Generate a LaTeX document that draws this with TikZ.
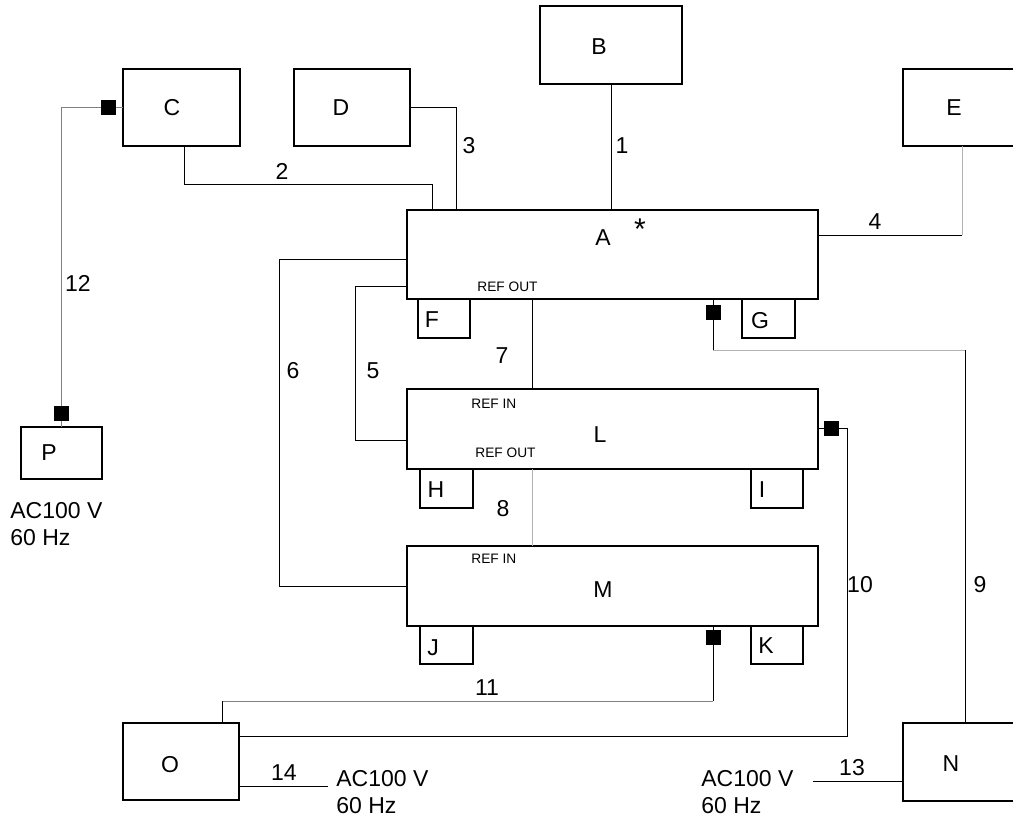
\documentclass[tikz,border=0pt]{standalone}
\usepackage{fontspec}
\setmainfont{Liberation Sans}
\usetikzlibrary{calc}
\begin{document}
\begin{tikzpicture}[x=0.5pt,y=-0.5pt,
  box/.style={draw,line width=1pt,inner sep=0pt,outer sep=0pt},
  conn/.style={line width=0.5pt},
  lg/.style={conn,draw=black!30},
  mg/.style={conn,draw=black!50},
  sq/.style={fill=black,draw=none,minimum size=7.5pt,inner sep=0pt,outer sep=0pt},
  txt/.style={font=\fontsize{11.5}{13.8}\selectfont,inner sep=0pt},
  small/.style={font=\fontsize{6.85}{8}\selectfont,inner sep=0pt}]
\useasboundingbox (0,0) rectangle (1013,821);
\clip (0,0) rectangle (1013,821);
% boxes
\node[box,minimum width=58.5pt,minimum height=38.5pt,label={[txt,shift={(-9.5,0.5)}]center:C}] (C) at (181.5,107.5) {};
\node[box,minimum width=58pt,minimum height=38.5pt,label={[txt,shift={(-11,0.5)}]center:D}] (D) at (352,107.5) {};
\node[box,minimum width=71pt,minimum height=39pt,label={[txt,shift={(-12,2)}]center:B}] (B) at (611,45) {};
\node[box,minimum width=71pt,minimum height=38.5pt,label={[txt,shift={(-20,0.5)}]center:E}] (E) at (974,107.5) {};
\node[box,minimum width=205.5pt,minimum height=44.5pt,label={[txt,shift={(-9.5,-16.5)}]center:A}] (A) at (612.5,254.5) {};
\node[font=\fontsize{15}{18}\selectfont,inner sep=0pt] (star) at (640,229) {*};
\node[box,minimum width=26pt,minimum height=19.5pt,label={[txt,shift={(-12,1.5)}]center:F}] (F) at (444,318.5) {};
\node[box,minimum width=26.5pt,minimum height=19.5pt,label={[txt,shift={(-8.5,2.5)}]center:G}] (G) at (768.5,318.5) {};
\node[box,minimum width=205.5pt,minimum height=40pt,label={[txt,shift={(-12.5,6)}]center:L}] (L) at (612.5,429) {};
\node[box,minimum width=26.5pt,minimum height=19.5pt,label={[txt,shift={(-10.5,1.5)}]center:H}] (H) at (446.5,488.5) {};
\node[box,minimum width=26pt,minimum height=19.5pt,label={[txt,shift={(-15,1.5)}]center:I}] (I) at (777,488.5) {};
\node[box,minimum width=205.5pt,minimum height=40pt,label={[txt,shift={(-9.5,4)}]center:M}] (M) at (612.5,586) {};
\node[box,minimum width=26.5pt,minimum height=19pt,label={[txt,shift={(-13.5,3)}]center:J}] (J) at (446.5,645) {};
\node[box,minimum width=26pt,minimum height=19pt,label={[txt,shift={(-11,1)}]center:K}] (K) at (777,645) {};
\node[box,minimum width=40.5pt,minimum height=26pt,label={[txt,shift={(-12.5,0)}]center:P}] (P) at (61.5,453) {};
\node[box,minimum width=58pt,minimum height=38.5pt,label={[txt,shift={(-11,3.5)}]center:O}] (O) at (181,761.5) {};
\node[box,minimum width=71pt,minimum height=39pt,label={[txt,shift={(-23,2)}]center:N}] (N) at (974,762) {};
% REF texts
\node[small,anchor=west] (aro) at (477,287) {REF OUT};
\node[small,anchor=west] (lri) at (471,404) {REF IN};
\node[small,anchor=west] (lro) at (475,453) {REF OUT};
\node[small,anchor=west] (mri) at (471,559) {REF IN};
% squares
\node[sq] (sq12a) at (108.5,107.5) {};
\node[sq] (sq12b) at (61.5,413) {};
\node[sq] (sq9) at (713,312) {};
\node[sq] (sq10) at (831,428) {};
\node[sq] (sq11) at (713,637) {};
% helper coordinates
\coordinate (c4) at (962,235);
\coordinate (c9) at (965,350);
\coordinate (c10) at (847,736);
\coordinate (c11) at (222,701);
\coordinate (c13) at (813,781);
\coordinate (c14) at (328,786.5);
% connectors
\draw[conn] (B.south) -- (B.south |- A.north);
\draw[conn] ([xshift=1.25pt]C.south) -- ++(0,38.5) -| ([xshift=12.5pt]A.north west);
\draw[conn] (D.east) -| ([xshift=24.5pt]A.north west);
\draw[conn] (A.east |- c4) -- (c4);
\draw[lg] (c4) -- (c4 |- E.south);
\draw[conn] ([yshift=-15.75pt]A.west) -- ++(-52,0) |- ([yshift=-5.5pt]L.west);
\draw[conn] ([yshift=-2.25pt]A.west) -- ++(-128,0) |- (M.west);
\draw[conn] ([xshift=-40.25pt]A.south) -- ([xshift=-40.25pt]L.north);
\draw[lg] ([xshift=-40.25pt]L.south) -- ([xshift=-40.25pt]M.north);
\draw[conn] (sq9.north |- A.south) -- (sq9.north);
\draw[conn] (sq9.south) -- (sq9.south |- c9);
\draw[lg] (sq9.south |- c9) -- (c9);
\draw[conn] (c9) -- (c9 |- N.north);
\draw[conn] (L.east |- sq10) -- (sq10.west);
\draw[conn] (sq10.east) -| (c10) -- (c10 -| O.east);
\draw[conn] (sq11.north |- M.south) -- (sq11.north);
\draw[conn] (sq11.south) -- (sq11.south |- c11);
\draw[mg] (sq11.south |- c11) -- (c11);
\draw[conn] (c11) -- (c11 |- O.north);
\draw[mg] (C.west |- sq12a) -- (sq12a.east);
\draw[mg] (sq12a.west) -| (sq12b.north);
\draw[mg] (sq12b.south) -- (sq12b.south |- P.north);
\draw[conn] (c13 -| N.west) -- (c13);
\draw[conn] (c14 -| O.east) -- (c14);
% connector labels
\node[txt] (l1) at (622,146) {1};
\node[txt] (l2) at (282,171) {2};
\node[txt] (l3) at (469,146) {3};
\node[txt] (l4) at (875,222) {4};
\node[txt] (l5) at (373,371) {5};
\node[txt] (l6) at (293,371) {6};
\node[txt] (l7) at (502,356) {7};
\node[txt] (l8) at (503,509) {8};
\node[txt] (l9) at (980,585) {9};
\node[txt] (l10) at (860,585) {10};
\node[txt] (l11) at (487,688) {11};
\node[txt] (l12) at (78,283) {12};
\node[txt] (l13) at (852,768) {13};
\node[txt] (l14) at (284,773) {14};
% power texts
\node[txt,anchor=base west] (pP1) at (10,518) {AC100 V};
\node[txt,anchor=base west] (pP2) at (10,545) {60 Hz};
\node[txt,anchor=base west] (pO1) at (336,786) {AC100 V};
\node[txt,anchor=base west] (pO2) at (336,813) {60 Hz};
\node[txt,anchor=base west] (pN1) at (701,786) {AC100 V};
\node[txt,anchor=base west] (pN2) at (701,813) {60 Hz};
\end{tikzpicture}
\end{document}
